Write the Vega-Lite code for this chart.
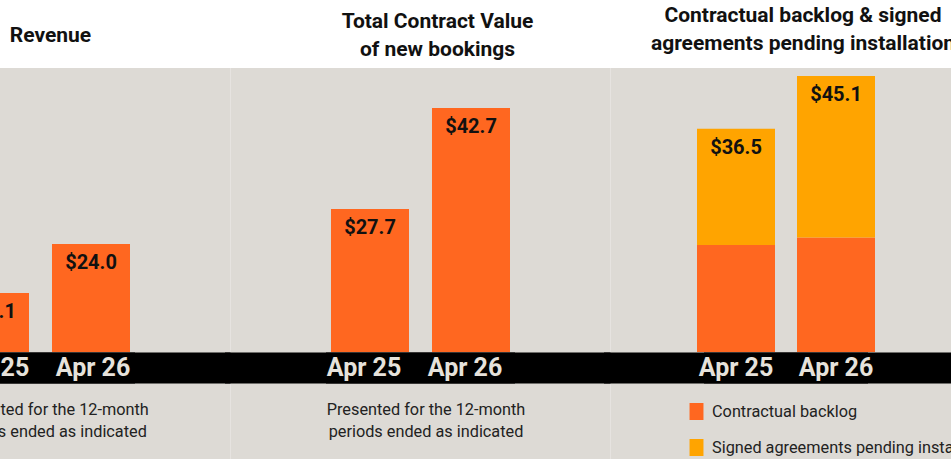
{
  "$schema": "https://vega.github.io/schema/vega-lite/v6.json",
  "padding": {"left": -155.5, "right": -30, "top": 5, "bottom": 0},
  "background": "#FFFFFF",
  "spacing": 0,
  "bounds": "flush",
  "datasets": {
    "revenue": [
      {"period": "Apr 25", "value": 13.1},
      {"period": "Apr 26", "value": 24.0}
    ],
    "tcv": [
      {"period": "Apr 25", "value": 27.7},
      {"period": "Apr 26", "value": 42.7}
    ],
    "backlog": [
      {"period": "Apr 25", "segment": "Contractual backlog", "value": 17.5},
      {"period": "Apr 25", "segment": "Signed agreements pending installation", "value": 19.0},
      {"period": "Apr 26", "segment": "Contractual backlog", "value": 18.7},
      {"period": "Apr 26", "segment": "Signed agreements pending installation", "value": 26.4}
    ],
    "backlog_totals": [
      {"period": "Apr 25", "value": 36.5},
      {"period": "Apr 26", "value": 45.1}
    ]
  },
  "hconcat": [
    {
      "width": 380,
      "height": 391,
      "title": {"text": "Revenue", "dx": 10, "dy": -14},
      "data": {"name": "revenue"},
      "layer": [
        {
          "mark": {"type": "bar", "color": "#FF6720"},
          "encoding": {
            "x": {"field": "period", "type": "nominal", "sort": null,
              "scale": {"type": "band", "paddingInner": 0.2277, "paddingOuter": 0.995},
              "axis": {"title": ["Presented for the 12-month", "periods ended as indicated"], "titleX": 198.5, "labelOffset": 2}},
            "y": {"field": "value", "type": "quantitative", "stack": null,
              "scale": {"domain": [-23.78, 63.11], "nice": false, "zero": false}, "axis": null}
          }
        },
        {
          "mark": {"type": "text", "baseline": "middle", "dy": 19, "font": "Roboto", "fontWeight": "bold", "fontSize": 20, "color": "#111111"},
          "encoding": {
            "x": {"field": "period", "type": "nominal", "sort": null},
            "y": {"field": "value", "type": "quantitative"},
            "text": {"field": "value", "type": "quantitative", "format": "$.1f"}
          }
        }
      ]
    },
    {
      "width": 380,
      "height": 391,
      "title": {"text": ["Total Contract Value", "of new bookings"], "dx": 17, "dy": 0},
      "data": {"name": "tcv"},
      "layer": [
        {
          "mark": {"type": "bar", "color": "#FF6720"},
          "encoding": {
            "x": {"field": "period", "type": "nominal", "sort": null,
              "scale": {"type": "band", "paddingInner": 0.2277, "paddingOuter": 0.995},
              "axis": {"title": ["Presented for the 12-month", "periods ended as indicated"], "titleX": 195}},
            "y": {"field": "value", "type": "quantitative", "stack": null,
              "scale": {"type": "pow", "exponent": 1.235, "domain": [-21.91, 48.29], "nice": false, "zero": false}, "axis": null}
          }
        },
        {
          "mark": {"type": "text", "baseline": "middle", "dy": 19, "font": "Roboto", "fontWeight": "bold", "fontSize": 20, "color": "#111111"},
          "encoding": {
            "x": {"field": "period", "type": "nominal", "sort": null},
            "y": {"field": "value", "type": "quantitative"},
            "text": {"field": "value", "type": "quantitative", "format": "$.1f"}
          }
        }
      ]
    },
    {
      "width": 351,
      "height": 391,
      "title": {"text": ["Contractual backlog & signed", "agreements pending installation"], "dx": 17, "dy": -6},
      "layer": [
        {
          "data": {"name": "backlog"},
          "mark": {"type": "bar"},
          "encoding": {
            "x": {"field": "period", "type": "nominal", "sort": null,
              "scale": {"type": "band", "paddingInner": 0.22, "paddingOuter": 0.865},
              "axis": {"title": null, "labelOffset": 0, "tickWidth": 264}},
            "y": {"field": "value", "type": "quantitative",
              "scale": {"domain": [-17.48, 46.41], "nice": false, "zero": false}, "axis": null},
            "order": {"field": "segment", "type": "nominal", "sort": "ascending"},
            "color": {"field": "segment", "type": "nominal",
              "scale": {"domain": ["Contractual backlog", "Signed agreements pending installation"], "range": ["#FF6720", "#FFA400"]},
              "legend": {"orient": "none", "legendX": 77.5, "legendY": 335, "title": null,
                "symbolType": "M-0.82,-1H0.82V1H-0.82Z", "symbolSize": 289, "symbolStrokeWidth": 0, "symbolOpacity": 1,
                "labelFont": "Roboto", "labelFontSize": 16.3, "labelColor": "#222222", "labelOffset": 7, "rowPadding": 19, "labelLimit": 270}}
          }
        },
        {
          "data": {"name": "backlog_totals"},
          "mark": {"type": "text", "baseline": "middle", "dy": 19, "font": "Roboto", "fontWeight": "bold", "fontSize": 20, "color": "#111111"},
          "encoding": {
            "x": {"field": "period", "type": "nominal", "sort": null},
            "y": {"field": "value", "type": "quantitative"},
            "text": {"field": "value", "type": "quantitative", "format": "$.1f"}
          }
        }
      ]
    }
  ],
  "resolve": {"scale": {"color": "independent"}, "legend": {"color": "independent"}},
  "config": {
    "font": "Roboto",
    "view": {"fill": "#DDDAD5", "stroke": null},
    "title": {"font": "Roboto", "fontSize": 21, "fontWeight": "bold", "color": "#111111", "lineHeight": 28, "anchor": "middle", "frame": "group", "offset": 8, "baseline": "bottom"},
    "axisX": {"domain": false, "offset": -107, "ticks": true, "tickColor": "#000000", "tickSize": 31, "tickWidth": 290, "tickCap": "butt", "grid": false,
      "labelFont": "Roboto", "labelFontSize": 25, "labelFontWeight": "bold", "labelColor": "#E6E2DB", "labelAngle": 0,
      "labelBaseline": "middle", "labelPadding": -15.5, "labelOffset": -6,
      "titleFont": "Roboto", "titleFontSize": 16.3, "titleFontWeight": "normal", "titleColor": "#222222",
      "titleLineHeight": 22, "titleBaseline": "middle", "titleY": 57.3}
  }
}
